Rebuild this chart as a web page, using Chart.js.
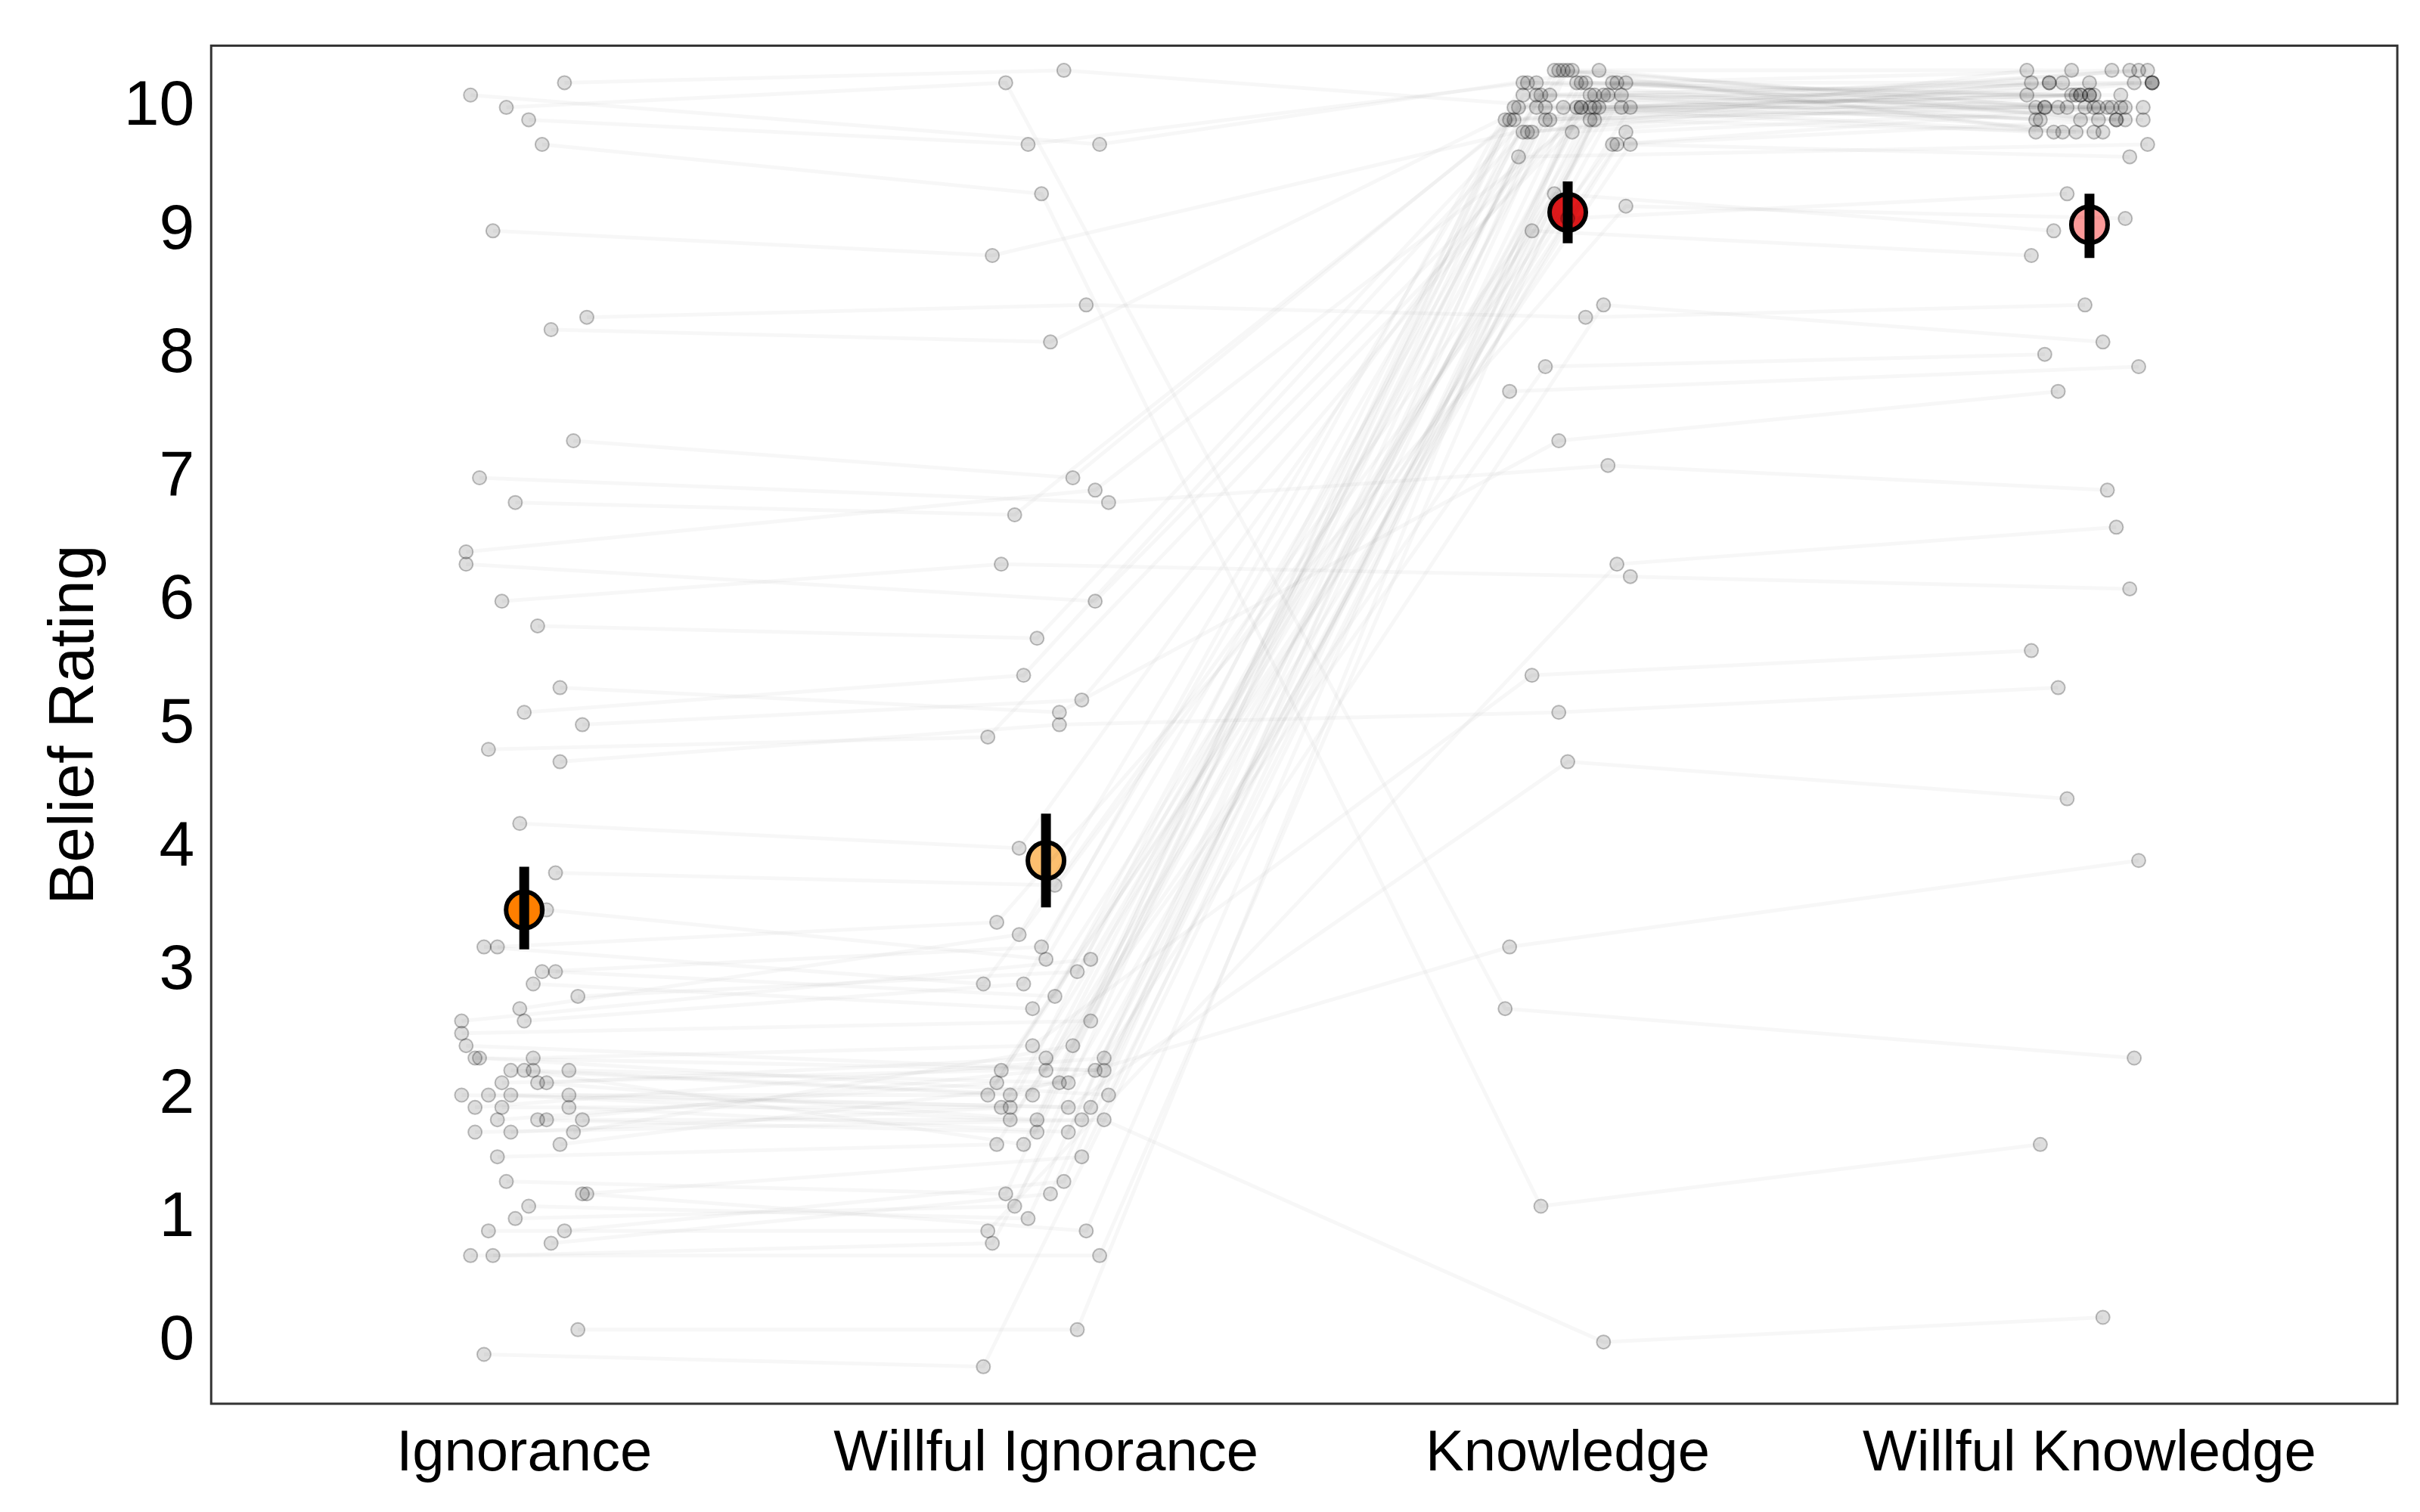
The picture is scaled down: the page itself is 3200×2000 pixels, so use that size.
<!DOCTYPE html>
<html><head><meta charset="utf-8">
<script src="https://cdn.jsdelivr.net/npm/chart.js@4.4.0/dist/chart.umd.min.js"></script>
<style>html,body{margin:0;background:#fff}#wrap{width:3200px;height:2000px}</style>
</head><body><div id="wrap"><canvas id="c"></canvas></div>
<script>
const categories = ["Ignorance", "Willful Ignorance", "Knowledge", "Willful Knowledge"];
const yTicks = [0,1,2,3,4,5,6,7,8,9,10];
const means = [3.5, 3.9, 9.15, 9.05];
const ciLow = [3.18, 3.52, 8.9, 8.78];
const ciHigh = [3.85, 4.28, 9.4, 9.3];
const meanColors = ["#FF7F00", "#FDBF6F", "#E31A1C", "#FB9A99"];

// one row per participant: ratings in the four conditions
const ratings = [
  [2.0,1.9,10.0,10.1],[1.8,2.1,10.2,9.9],[2.2,2.0,9.8,10.2],[1.9,1.7,10.3,10.0],
  [2.3,2.2,10.1,9.8],[1.7,1.9,9.9,10.3],[2.1,2.3,10.0,10.0],[1.8,1.8,10.2,10.1],
  [2.0,2.0,9.7,9.9],[2.2,1.6,10.1,10.2],[1.6,2.1,10.3,10.0],[2.4,2.2,9.9,9.8],
  [1.9,1.9,10.0,10.3],[2.1,1.8,10.2,9.9],[1.7,2.4,9.8,10.1],[2.3,2.0,10.1,10.0],
  [1.0,1.1,10.0,9.9],[0.8,1.2,9.9,10.2],[1.2,0.9,10.2,10.0],[0.7,0.8,10.1,10.1],
  [1.1,1.0,9.8,10.3],[0.9,1.3,10.3,9.8],[0.7,0.7,10.0,10.0],[1.3,1.2,9.9,10.2],
  [3.0,3.2,10.1,9.9],[2.8,3.0,10.2,10.1],[3.2,2.9,9.7,10.0],[2.7,3.3,10.0,10.3],
  [3.0,2.8,10.3,9.8],[2.6,3.1,9.9,10.2],[3.2,3.4,9.2,9.1],[2.9,2.7,9.0,8.8],
  [2.2,2.1,9.1,9.3],[1.9,2.3,8.4,8.1],[2.0,1.8,7.7,7.9],[1.8,2.2,7.9,8.0],
  [5.0,5.2,10.0,10.1],[4.8,4.9,10.2,9.9],[5.1,5.4,9.8,10.2],[4.7,5.0,5.1,5.3],
  [6.3,6.0,10.1,10.0],[6.0,6.3,6.2,6.1],[5.8,5.7,10.0,9.8],[7.3,7.0,10.3,10.3],
  [7.0,6.8,7.1,6.9],[6.8,6.7,9.9,10.0],[8.2,8.1,10.1,10.2],[8.3,8.4,8.3,8.4],
  [9.0,8.8,10.0,10.0],[9.9,9.7,10.2,10.1],[10.2,10.3,10.0,10.2],[10.1,9.7,10.3,9.9],
  [10.0,10.2,2.7,2.3],[9.7,9.3,1.1,1.6],[0.1,0.1,10.0,9.8],[-0.1,-0.2,10.2,10.3],
  [4.2,4.0,9.6,9.7],[3.8,3.7,9.3,9.0],[2.5,2.6,10.1,10.1],[1.5,1.6,9.8,10.0],
  [2.3,2.4,5.4,5.6],[2.0,1.9,4.7,4.4],[1.7,1.8,0.0,0.2],[2.2,2.0,3.2,3.9],
  [3.5,3.1,9.9,10.0],[1.2,1.5,10.0,9.9],[0.9,0.9,6.3,6.6],[2.6,2.9,10.2,10.2],
  [5.3,5.1,7.3,7.7],[6.4,6.9,10.0,10.1],[2.1,2.2,9.7,9.6],[1.8,1.7,10.1,10.0]
];

const jit = (p, c) => (((p * 37 + c * 53) % 29) / 28 - 0.5) * 0.24;

const lineSets = ratings.map((r, p) => ({
  type: "line",
  data: r.map((v, c) => ({ x: c + 1 + jit(p, c), y: v })),
  borderColor: "rgba(0,0,0,0.03)", borderWidth: 5, pointRadius: 0, fill: false, tension: 0
}));
const pts = [];
ratings.forEach((r, p) => r.forEach((v, c) => pts.push({ x: c + 1 + jit(p, c), y: v })));
const ciSets = means.map((m, c) => ({
  type: "line",
  data: [{ x: c + 1, y: ciLow[c] }, { x: c + 1, y: ciHigh[c] }],
  borderColor: "#000", borderWidth: 13, pointRadius: 0
}));

const frame = {
  id: "frame",
  afterDraw(ch) {
    const a = ch.chartArea, g = ch.ctx;
    g.save(); g.strokeStyle = "#333"; g.lineWidth = 3;
    g.strokeRect(a.left, a.top, a.right - a.left, a.bottom - a.top); g.restore();
  }
};

new Chart(document.getElementById("c"), {
  type: "scatter",
  data: { datasets: [
    ...lineSets,
    { data: pts, backgroundColor: "rgba(0,0,0,0.13)", borderColor: "rgba(0,0,0,0.25)", borderWidth: 2, pointRadius: 9 },
    ...ciSets,
    { data: means.map((m, c) => ({ x: c + 1, y: m })), backgroundColor: meanColors,
      borderColor: "#000", borderWidth: 6, pointRadius: 24 }
  ]},
  options: {
    responsive: true, maintainAspectRatio: false, animation: false,
    layout: { padding: { top: 0, right: 25, left: 45, bottom: 20 } },
    plugins: { legend: { display: false }, tooltip: { enabled: false } },
    scales: {
      x: { type: "linear", min: 0.4, max: 4.59,
        afterBuildTicks: ax => { ax.ticks = categories.map((_, i) => ({ value: i + 1 })); },
        grid: { display: false, drawTicks: true, tickLength: 12, tickColor: "#333", tickWidth: 3 },
        border: { display: false },
        ticks: { color: "#000", font: { family: "Liberation Sans", size: 76 }, padding: 10,
          maxRotation: 0, callback: v => categories[v - 1] } },
      y: { min: -0.5, max: 10.5,
        afterBuildTicks: ax => { ax.ticks = yTicks.map(v => ({ value: v })); },
        title: { display: true, text: "Belief Rating", color: "#000", font: { family: "Liberation Sans", size: 84 } },
        grid: { display: false, drawTicks: true, tickLength: 12, tickColor: "#333", tickWidth: 3 },
        border: { display: false },
        ticks: { color: "#000", font: { family: "Liberation Sans", size: 84 }, padding: 10 } }
    }
  },
  plugins: [frame]
});
</script></body></html>
